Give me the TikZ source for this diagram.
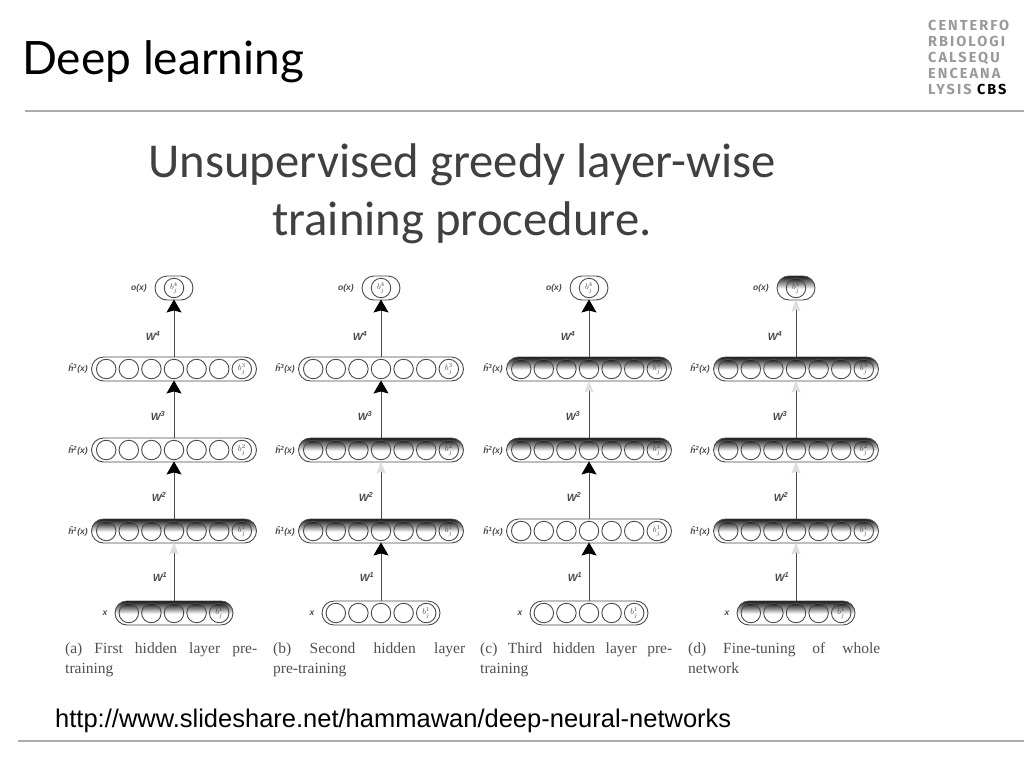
\documentclass[tikz,border=0pt]{standalone}
\usepackage{fontspec}
\setmainfont{Liberation Serif}
\setsansfont{Liberation Sans}
\newfontfamily\titlefont{Lato}
\newfontfamily\headfont{Carlito}
\newfontfamily\logofont[LetterSpace=14]{Fira Sans}
\usetikzlibrary{arrows.meta}
\definecolor{inkgrey}{HTML}{4A4A4A}
\definecolor{rulegrey}{HTML}{ABABAB}
\definecolor{logogrey}{HTML}{9A9A9A}
\definecolor{headgrey}{HTML}{404040}
\definecolor{capgrey}{HTML}{505050}
\definecolor{shadedark}{HTML}{151515}
\pgfdeclareverticalshading{topdark}{100bp}{color(0bp)=(white);color(48bp)=(white);color(75bp)=(shadedark);color(100bp)=(shadedark)}
\tikzset{
  pillw/.style={draw=inkgrey,line width=0.9pt,fill=white,rounded corners=12pt,minimum height=24pt,inner sep=0pt},
  pills/.style={draw=inkgrey,line width=0.9pt,shading=topdark,rounded corners=12pt,minimum height=24pt,inner sep=0pt},
  circw/.style={circle,draw=inkgrey,line width=0.9pt,fill=white,minimum size=19.5pt,inner sep=0pt},
  circs/.style={circle,draw=inkgrey,line width=0.9pt,shading=topdark,minimum size=19.5pt,inner sep=0pt},
  btext/.style={text=inkgrey,font=\fontsize{8}{8}\selectfont,inner sep=0pt},
  wlabel/.style={text=inkgrey,font=\sffamily\bfseries\itshape\fontsize{10.5}{10.5}\selectfont,inner sep=0pt},
  llabel/.style={text=inkgrey,font=\sffamily\bfseries\itshape\fontsize{8.5}{8.5}\selectfont,inner sep=0pt},
  captext/.style={text=capgrey,font=\fontsize{15.5}{20}\selectfont,anchor=north west,inner sep=0pt,align=left},
  blackup/.style={draw=inkgrey,line width=1pt,-{Stealth[width=15pt,length=13pt,inset=2pt,color=black]},shorten >=-1pt},
  lightup/.style={draw=inkgrey,line width=1pt,-{Stealth[width=9pt,length=12pt,inset=2pt,color=black!13]},shorten >=-1pt},
  logoline/.style={text=logogrey,font=\logofont\bfseries\fontsize{14.5}{15}\selectfont,anchor=base west,inner sep=0pt},
  sliderule/.style={draw=rulegrey,line width=2pt}
}
\newcommand{\nnlayer}[7]{%
  \node[pill#6,minimum width=#4pt] (#1) at (#2,#3) {};
  \foreach \nni in {1,...,#5} {
    \pgfmathsetmacro{\nndx}{#2+(\nni-(#5+1)/2)*22.6}
    \node[circ#6] (#1c\nni) at (\nndx,#3) {};
  }
  \node[btext] (#1b) at (#1c#5) {$b_j^{#7}$};
}
\newcommand{\nncolumn}[7]{%
  \nnlayer{#1L4}{#2}{288}{38}{1}{#3}{4}
  \nnlayer{#1L3}{#2}{369}{165}{7}{#4}{3}
  \nnlayer{#1L2}{#2}{450}{165}{7}{#5}{2}
  \nnlayer{#1L1}{#2}{531}{165}{7}{#6}{1}
  \nnlayer{#1L0}{#2}{613}{118}{5}{#7}{1}
  \node[wlabel] (#1w4) at ({#2-21},336) {W\textsuperscript{4}};
  \node[wlabel] (#1w3) at ({#2-16},416) {W\textsuperscript{3}};
  \node[wlabel] (#1w2) at ({#2-15},497) {W\textsuperscript{2}};
  \node[wlabel] (#1w1) at ({#2-14},577) {W\textsuperscript{1}};
  \node[llabel] (#1l4) at ({#2-35},288) {o(x)};
  \node[llabel] (#1l3) at ({#2-96},368) {ĥ\textsuperscript{3}(x)};
  \node[llabel] (#1l2) at ({#2-96},450) {ĥ\textsuperscript{2}(x)};
  \node[llabel] (#1l1) at ({#2-96},531) {ĥ\textsuperscript{1}(x)};
  \node[llabel] (#1l0) at ({#2-69},613) {x};
}
\newcommand{\nncaption}[5]{%
  \node[captext] (#1) at (#2,639) {\makebox[#3pt][s]{\strut #4}\\#5};
}
\begin{document}
\begin{tikzpicture}[x=1pt,y=-1pt]
\useasboundingbox[fill=white] (0,0) rectangle (1024,768);
% title
\node[anchor=west,inner sep=0pt,font=\titlefont\fontsize{46}{48}\selectfont,text=black] (title) at (22,62) {Deep learning};
% logo
\node[logoline] (lg1) at (928,31) {CENTERFO};
\node[logoline] (lg2) at (928,47) {RBIOLOGI};
\node[logoline] (lg3) at (928,63) {CALSEQU};
\node[logoline] (lg4) at (928,78) {ENCEANA};
\node[logoline] (lg5) at (928,94) {LYSIS \textcolor{black}{CBS}};
% rules
\coordinate (r1a) at (25,111);
\coordinate (r1b) at (1024,111);
\coordinate (r2a) at (18,741);
\coordinate (r2b) at (1024,741);
\draw[sliderule] (r1a) -- (r1b);
\draw[sliderule] (r2a) -- (r2b);
% heading
\node[align=center,inner sep=0pt,text=headgrey,font=\headfont\fontsize{48.7}{58}\selectfont] (head) at (462,194) {Unsupervised greedy layer-wise\\training procedure.};
% columns
\nncolumn{a}{174}{w}{w}{w}{s}{s}
\nncolumn{b}{381}{w}{w}{s}{s}{w}
\nncolumn{c}{589}{w}{s}{s}{w}{w}
\nncolumn{d}{796}{s}{s}{s}{s}{s}
% connectors
\draw[blackup] (aL3) -- (aL4);
\draw[blackup] (aL2) -- (aL3);
\draw[blackup] (aL1) -- (aL2);
\draw[lightup] (aL0) -- (aL1);
\draw[blackup] (bL3) -- (bL4);
\draw[blackup] (bL2) -- (bL3);
\draw[lightup] (bL1) -- (bL2);
\draw[blackup] (bL0) -- (bL1);
\draw[blackup] (cL3) -- (cL4);
\draw[lightup] (cL2) -- (cL3);
\draw[blackup] (cL1) -- (cL2);
\draw[blackup] (cL0) -- (cL1);
\draw[lightup] (dL3) -- (dL4);
\draw[lightup] (dL2) -- (dL3);
\draw[lightup] (dL1) -- (dL2);
\draw[lightup] (dL0) -- (dL1);
% captions
\nncaption{capa}{65}{192}{(a) First hidden layer pre-}{training}
\nncaption{capb}{273}{192}{(b) Second hidden layer}{pre-training}
\nncaption{capc}{480}{192}{(c) Third hidden layer pre-}{training}
\nncaption{capd}{688}{192}{(d) Fine-tuning of whole}{network}
% url
\node[anchor=west,inner sep=0pt,text=black,font=\sffamily\fontsize{25.5}{27}\selectfont] (url) at (55,720.5) {http://www.slideshare.net/hammawan/deep-neural-networks};
\end{tikzpicture}
\end{document}
